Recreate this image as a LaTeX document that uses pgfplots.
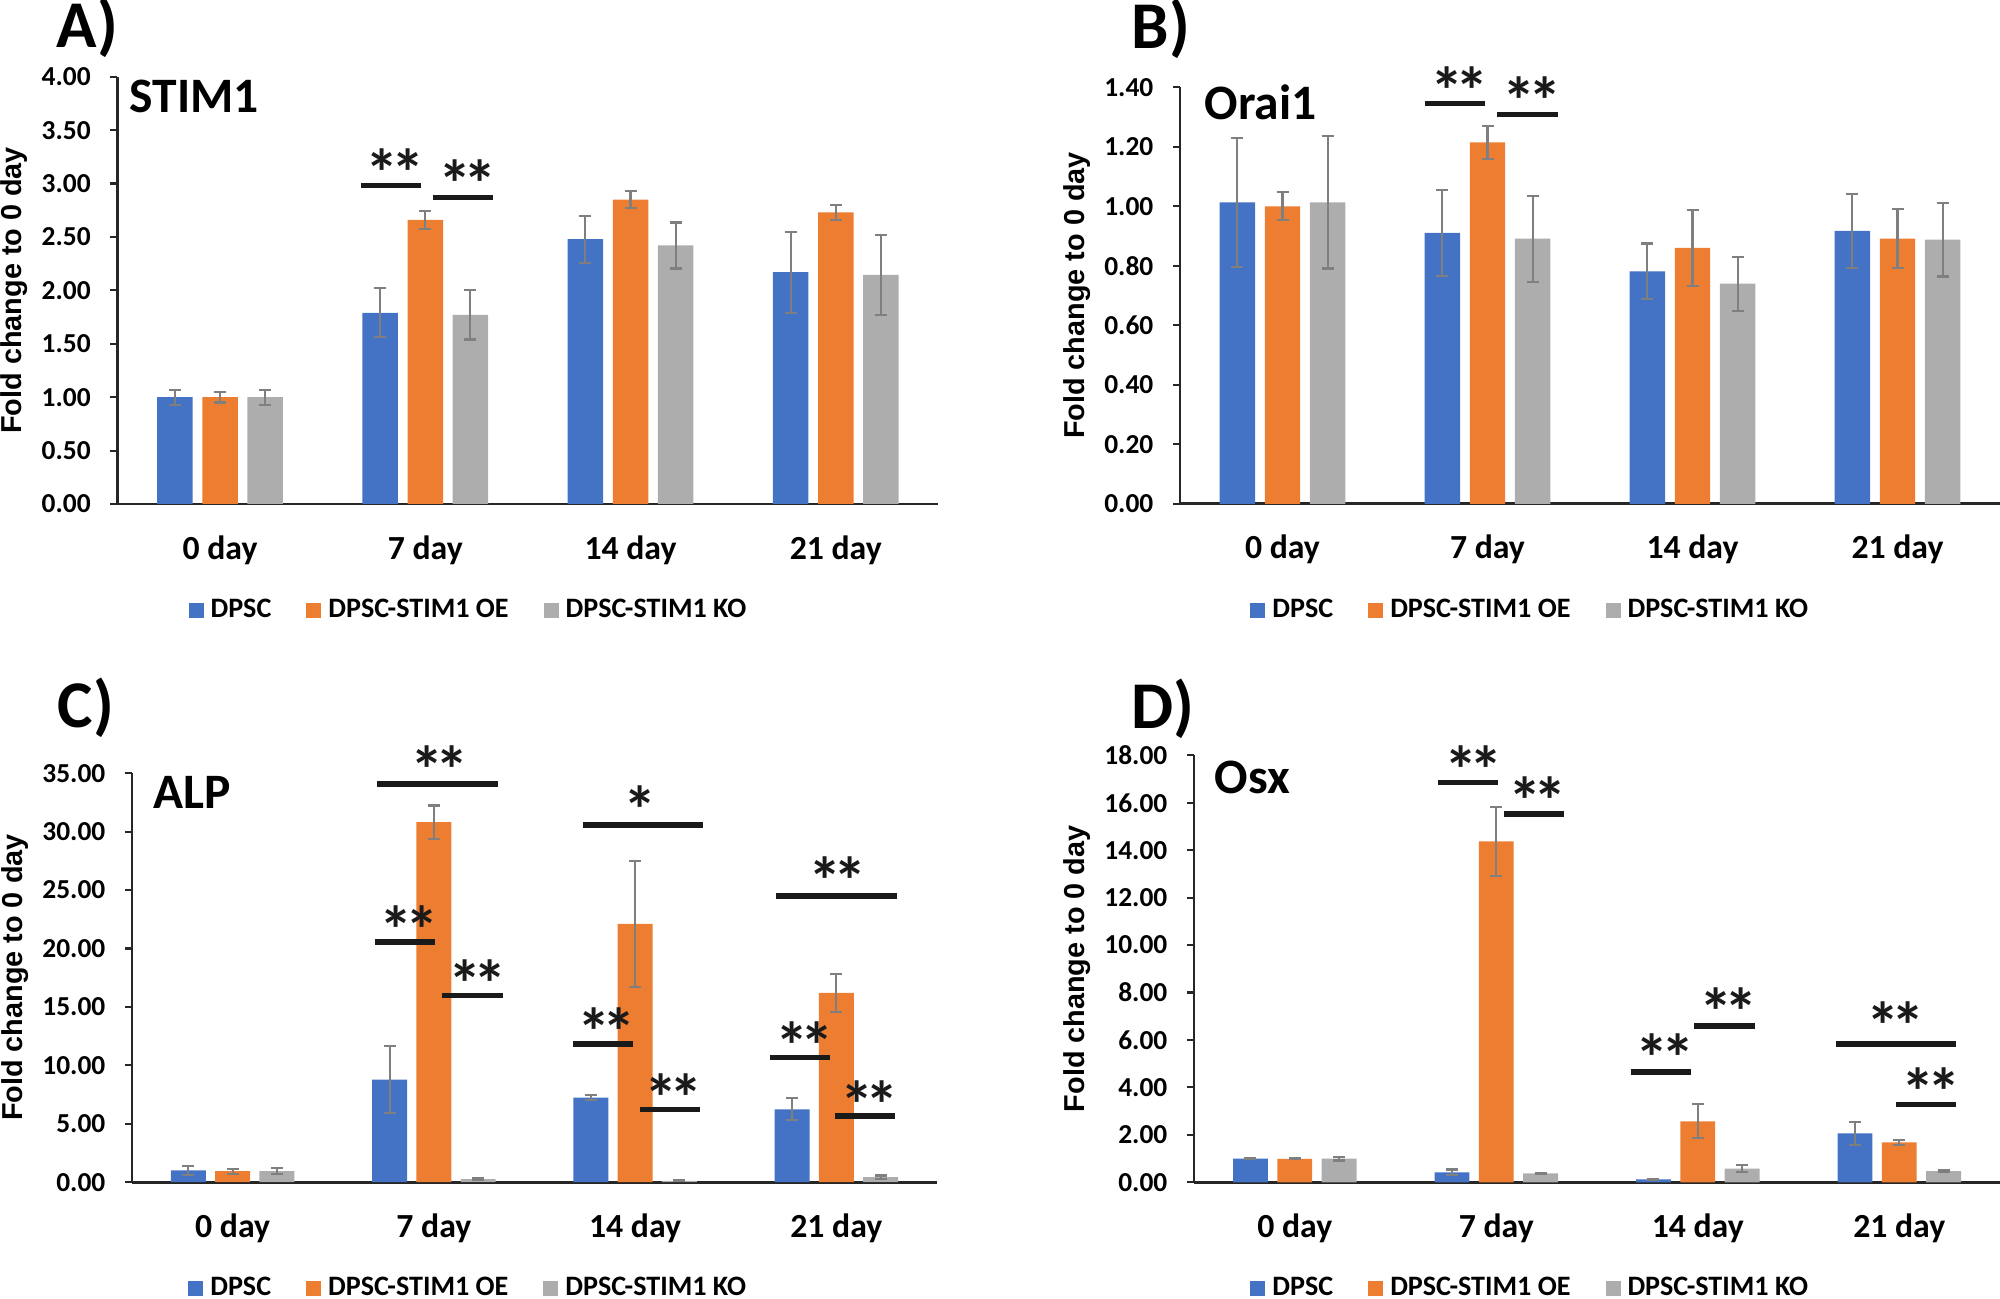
\documentclass[border=0pt]{standalone}
\usepackage{pgfplots}
\pgfplotsset{compat=1.18}
\usepackage{fontspec}
\setmainfont{Carlito}
\newfontfamily\labfont{Liberation Sans}
\definecolor{cblue}{HTML}{4472C4}
\definecolor{corange}{HTML}{ED7D31}
\definecolor{cgray}{HTML}{ADADAD}
\definecolor{errgray}{HTML}{7F7F7F}
\definecolor{sigblack}{HTML}{1A1A1A}
\tikzset{
  sig/.style={line width=1.6pt, sigblack},
  star/.style={font=\fontsize{19}{19}\selectfont\bfseries, anchor=base, inner sep=0pt, yshift=-10.2pt, text=sigblack},
}
\newcommand{\sig}[6]{\draw[sig] (axis cs:#1,#3) -- (axis cs:#2,#3); \node[star] at (axis cs:#4,#5) {#6};}
\newcommand{\dst}{*\kern-2.3pt*}
\pgfplotsset{
  panel/.style={
    scale only axis,
    ybar,
    bar width=0.173,
    xmin=-0.5, xmax=3.5, ymin=0,
    clip=false,
    xtick={0,1,2,3},
    xticklabels={0 day,7 day,14 day,21 day},
    axis x line*=bottom,
    axis y line*=left,
    axis line style={-},
    x axis line style={line width=0.8pt, draw=black!85},
    y axis line style={line width=0.7pt, draw=black!85},
    tick align=outside,
    major tick length=0.07cm,
    xtick style={draw=none},
    ytick style={line width=0.6pt, black!85},
    xticklabel style={font=\fontsize{9.6}{10}\selectfont\bfseries, anchor=base, yshift=-0.48cm, inner sep=0pt},
    yticklabel style={font=\fontsize{7.8}{8}\selectfont\bfseries, inner sep=0pt, xshift=-0.19cm},
    /pgf/number format/assume math mode=true,
    y tick label style={/pgf/number format/fixed, /pgf/number format/fixed zerofill, /pgf/number format/precision=2},
    ylabel={Fold change to 0 day},
    every axis y label/.style={rotate=90, anchor=center, font=\labfont\fontsize{8.2}{9}\selectfont\bfseries},
    error bars/y dir=both, error bars/y explicit,
    error bars/error bar style={line width=0.6pt, errgray},
    error bars/error mark options={rotate=90, mark size=0.06cm, line width=0.6pt, errgray},
    legend columns=3,
    legend image code/.code={\fill[##1] (0cm,-0.075cm) rectangle (0.15cm,0.075cm);},
    legend style={draw=none, fill=none, font=\fontsize{8}{8}\selectfont\bfseries, anchor=center, inner sep=0pt, nodes={inner sep=0pt},
      /tikz/every odd column/.append style={column sep=0.07cm},
      /tikz/every even column/.append style={column sep=0.35cm}},
  },
  s1/.style={fill=cblue, draw=none, bar shift=-0.22},
  s2/.style={fill=corange, draw=none, bar shift=0},
  s3/.style={fill=cgray, draw=none, bar shift=0.22},
}
\begin{document}
\begin{tikzpicture}
\useasboundingbox (0,0) rectangle (20cm,12.98cm);
% ---------------- A ----------------
\begin{axis}[panel, at={(1.174cm,7.94cm)}, anchor=south west, width=8.21cm, height=4.273cm,
  ymax=4, ytick={0,0.5,1,1.5,2,2.5,3,3.5,4},
  ylabel style={at={([xshift=-1.037cm]axis description cs:0,0.5)}},
  legend style={at={(axis description cs:0.4264,-0.2495)}}]
\addplot+[s1] coordinates {(0,1.00) +- (0,0.07) (1,1.79) +- (0,0.23) (2,2.48) +- (0,0.22) (3,2.17) +- (0,0.38)};
\addplot+[s2] coordinates {(0,1.00) +- (0,0.05) (1,2.66) +- (0,0.085) (2,2.85) +- (0,0.08) (3,2.73) +- (0,0.07)};
\addplot+[s3] coordinates {(0,1.00) +- (0,0.07) (1,1.77) +- (0,0.23) (2,2.42) +- (0,0.215) (3,2.145) +- (0,0.375)};
\legend{DPSC, DPSC-STIM1 OE, DPSC-STIM1 KO}
\sig{0.686}{0.978}{2.98}{0.853}{3.21}{\dst}
\sig{1.04}{1.332}{2.87}{1.207}{3.11}{\dst}
\end{axis}
% ---------------- B ----------------
\begin{axis}[panel, at={(11.80cm,7.942cm)}, anchor=south west, width=8.20cm, height=4.165cm,
  ymax=1.4, ytick={0,0.2,0.4,0.6,0.8,1.0,1.2,1.4},
  ylabel style={at={([xshift=-1.03cm]axis description cs:0,0.5)}},
  legend style={at={(axis description cs:0.426,-0.256)}}]
\addplot+[s1] coordinates {(0,1.013) +- (0,0.217) (1,0.911) +- (0,0.145) (2,0.781) +- (0,0.094) (3,0.917) +- (0,0.125)};
\addplot+[s2] coordinates {(0,1.00) +- (0,0.047) (1,1.215) +- (0,0.056) (2,0.86) +- (0,0.127) (3,0.891) +- (0,0.099)};
\addplot+[s3] coordinates {(0,1.013) +- (0,0.222) (1,0.891) +- (0,0.145) (2,0.74) +- (0,0.091) (3,0.888) +- (0,0.124)};
\legend{DPSC, DPSC-STIM1 OE, DPSC-STIM1 KO}
\sig{0.694}{0.990}{1.346}{0.865}{1.428}{\dst}
\sig{1.047}{1.345}{1.309}{1.218}{1.394}{\dst}
\end{axis}
% ---------------- C ----------------
\begin{axis}[panel, at={(1.32cm,1.159cm)}, anchor=south west, width=8.05cm, height=4.089cm,
  ymax=35, ytick={0,5,10,15,20,25,30,35},
  ylabel style={at={([xshift=-1.167cm]axis description cs:0,0.5)}},
  legend style={at={(axis description cs:0.4164,-0.260)}}]
\addplot+[s1] coordinates {(0,1.00) +- (0,0.39) (1,8.78) +- (0,2.85) (2,7.23) +- (0,0.22) (3,6.23) +- (0,0.94)};
\addplot+[s2] coordinates {(0,0.93) +- (0,0.23) (1,30.82) +- (0,1.42) (2,22.1) +- (0,5.37) (3,16.19) +- (0,1.6)};
\addplot+[s3] coordinates {(0,0.95) +- (0,0.25) (1,0.25) +- (0,0.07) (2,0.11) +- (0,0.05) (3,0.43) +- (0,0.14)};
\legend{DPSC, DPSC-STIM1 OE, DPSC-STIM1 KO}
\sig{0.718}{1.32}{34.08}{1.03}{36.3}{\dst}
\sig{0.707}{1.006}{20.55}{0.877}{22.6}{\dst}
\sig{1.042}{1.343}{15.98}{1.216}{18.0}{\dst}
\sig{1.74}{2.337}{30.57}{2.024}{32.9}{*}
\sig{1.689}{1.987}{11.83}{1.86}{13.9}{\dst}
\sig{2.024}{2.322}{6.2}{2.193}{8.25}{\dst}
\sig{2.70}{3.30}{24.48}{3.008}{26.85}{\dst}
\sig{2.668}{2.968}{10.66}{2.842}{12.68}{\dst}
\sig{2.993}{3.291}{5.67}{3.165}{7.65}{\dst}
\end{axis}
% ---------------- D ----------------
\begin{axis}[panel, at={(11.94cm,1.157cm)}, anchor=south west, width=8.06cm, height=4.27cm,
  ymax=18, ytick={0,2,4,6,8,10,12,14,16,18},
  ylabel style={at={([xshift=-1.17cm]axis description cs:0,0.5)}},
  legend style={at={(axis description cs:0.416,-0.249)}}]
\addplot+[s1] coordinates {(0,1.00) +- (0,0.03) (1,0.42) +- (0,0.12) (2,0.12) +- (0,0.03) (3,2.06) +- (0,0.49)};
\addplot+[s2] coordinates {(0,0.99) +- (0,0.02) (1,14.37) +- (0,1.45) (2,2.57) +- (0,0.72) (3,1.68) +- (0,0.1)};
\addplot+[s3] coordinates {(0,1.00) +- (0,0.08) (1,0.38) +- (0,0.03) (2,0.58) +- (0,0.14) (3,0.47) +- (0,0.04)};
\legend{DPSC, DPSC-STIM1 OE, DPSC-STIM1 KO}
\sig{0.711}{1.009}{16.85}{0.886}{17.91}{\dst}
\sig{1.037}{1.335}{15.52}{1.205}{16.60}{\dst}
\sig{1.667}{1.965}{4.66}{1.838}{5.76}{\dst}
\sig{1.981}{2.282}{6.58}{2.155}{7.68}{\dst}
\sig{2.684}{3.282}{5.83}{2.984}{7.09}{\dst}
\sig{2.984}{3.282}{3.28}{3.158}{4.33}{\dst}
\end{axis}
% ---------------- panel letters and titles ----------------
\node[anchor=base west, inner sep=0pt, font=\fontsize{19}{19}\selectfont\bfseries] at (0.56cm,12.50cm) {A)};
\node[anchor=base west, inner sep=0pt, font=\fontsize{19}{19}\selectfont\bfseries] at (11.31cm,12.497cm) {B)};
\node[anchor=base west, inner sep=0pt, font=\fontsize{19}{19}\selectfont\bfseries] at (0.57cm,5.704cm) {C)};
\node[anchor=base west, inner sep=0pt, font=\fontsize{19}{19}\selectfont\bfseries] at (11.31cm,5.70cm) {D)};
\node[anchor=base west, inner sep=0pt, font=\fontsize{14.1}{14}\selectfont\bfseries] at (1.29cm,11.857cm) {STIM1};
\node[anchor=base west, inner sep=0pt, font=\fontsize{14.1}{14}\selectfont\bfseries] at (12.04cm,11.78cm) {Orai1};
\node[anchor=base west, inner sep=0pt, font=\fontsize{14.1}{14}\selectfont\bfseries] at (1.53cm,4.895cm) {ALP};
\node[anchor=base west, inner sep=0pt, font=\fontsize{14.1}{14}\selectfont\bfseries] at (12.14cm,5.047cm) {Osx};
\end{tikzpicture}
\end{document}
